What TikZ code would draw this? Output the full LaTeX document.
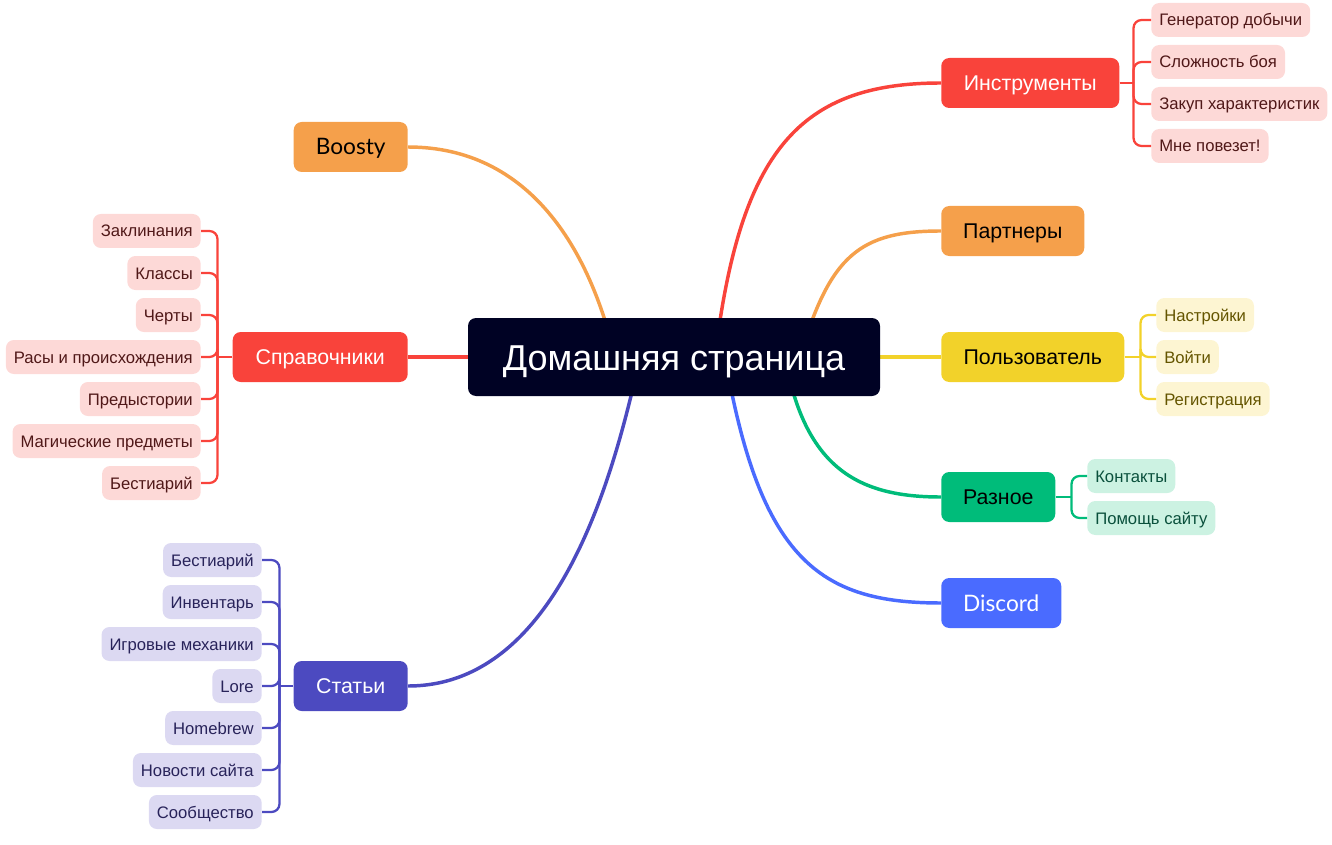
\documentclass[tikz,border=0pt]{standalone}
\usepackage{fontspec}
\setmainfont{Liberation Sans}
\newfontfamily\brandfont{Lato}
\usepackage{xcolor}
\usetikzlibrary{positioning,calc,backgrounds}

\definecolor{homebg}{HTML}{000224}
\definecolor{cred}{HTML}{F9433B}
\definecolor{corange}{HTML}{F5A04B}
\definecolor{cyellow}{HTML}{F2D22A}
\definecolor{cgreen}{HTML}{00BC7A}
\definecolor{cblue}{HTML}{4A6BFF}
\definecolor{cindigo}{HTML}{4C4AC0}
\definecolor{lred}{HTML}{FDD9D7}
\definecolor{lyellow}{HTML}{FDF5D2}
\definecolor{lgreen}{HTML}{CCF2E2}
\definecolor{lindigo}{HTML}{DCD9F2}
\definecolor{tred}{HTML}{501818}
\definecolor{tyellow}{HTML}{645500}
\definecolor{tgreen}{HTML}{0A503C}
\definecolor{tindigo}{HTML}{28235A}

\tikzset{
  topic/.style={rounded corners=6pt, minimum height=37.5pt, inner xsep=4pt, text height=11.5pt, text depth=0pt, font=\fontsize{16}{19}\selectfont},
  brand/.style={font=\brandfont\fontsize{17}{20}\selectfont, text height=12pt},
  leaf/.style={rounded corners=6pt, minimum height=25.5pt, inner xsep=6pt, text height=9pt, text depth=0pt, font=\fontsize{12.5}{15}\selectfont},
  branch/.style={line width=2.6pt},
  twig/.style={line width=1.7pt, rounded corners=6pt},
}

\begin{document}
\begin{tikzpicture}[x=0.75pt, y=-0.75pt]
    \useasboundingbox (0,0) rectangle (1332,845);

    \node[fill=homebg, text=white, rounded corners=6pt, minimum width=309pt, minimum height=58.5pt, text height=19.5pt, text depth=0pt, font=\fontsize{27}{32}\selectfont] (home) at (674,357) {Домашняя страница};

    % main topics
    \node[topic, fill=cred, text=white, anchor=west, minimum width=133.5pt] (tools) at (941,83) {Инструменты};
    \node[topic, fill=corange, anchor=west, minimum width=107.25pt] (partners) at (941,231) {Партнеры};
    \node[topic, fill=cyellow, anchor=west, minimum width=137.25pt] (user) at (941,357) {Пользователь};
    \node[topic, fill=cgreen, anchor=west, minimum width=85.5pt] (misc) at (941,497) {Разное};
    \node[topic, brand, fill=cblue, text=white, anchor=west, minimum width=90pt] (discord) at (941,603) {Discord};
    \node[topic, brand, fill=corange, anchor=east, minimum width=85.5pt] (boosty) at (408,147) {Boosty};
    \node[topic, fill=cred, text=white, anchor=east, minimum width=131.25pt] (refs) at (408,357) {Справочники};
    \node[topic, fill=cindigo, text=white, anchor=east, minimum width=85.5pt] (articles) at (408,686) {Статьи};

    \begin{scope}[on background layer]
        \draw[branch, cred] ($(home)+(41,0)$) .. controls (740,150) and (800,83) .. (tools.west);
        \draw[branch, corange] ($(home)+(126,0)$) .. controls (830,255) and (860,231) .. (partners.west);
        \draw[branch, cyellow] (home) -- (user.west);
        \draw[branch, cgreen] ($(home)+(111,0)$) .. controls (805,470) and (860,497) .. (misc.west);
        \draw[branch, cblue] ($(home)+(51,0)$) .. controls (760,560) and (820,603) .. (discord.west);
        \draw[branch, corange] (boosty.east) .. controls (530,147) and (590,250) .. ($(home)+(-59,0)$);
        \draw[branch, cred] (refs.east) -- (home);
        \draw[branch, cindigo] (articles.east) .. controls (560,686) and (615,470) .. ($(home)+(-34,0)$);
    \end{scope}

    % leaves
    \draw[twig, cred] (tools.east) -- ++(14,0) coordinate (toolsfork);
    \foreach \t [count=\i] in {Генератор добычи, Сложность боя, Закуп характеристик, Мне повезет!} {
        \node[leaf, fill=lred, text=tred, anchor=west] (tools\i) at (1151,-22+42*\i) {\t};
        \draw[twig, cred] (toolsfork) |- (tools\i.west);
    }

    \draw[twig, cred] (refs.west) -- ++(-15,0) coordinate (refsfork);
    \foreach \t [count=\i] in {Заклинания, Классы, Черты, Расы и происхождения, Предыстории, Магические предметы, Бестиарий} {
        \node[leaf, fill=lred, text=tred, anchor=east] (refs\i) at (201,189+42*\i) {\t};
        \draw[twig, cred] (refsfork) |- (refs\i.east);
    }

    \draw[twig, cyellow] (user.east) -- ++(16,0) coordinate (userfork);
    \foreach \t [count=\i] in {Настройки, Войти, Регистрация} {
        \node[leaf, fill=lyellow, text=tyellow, anchor=west] (user\i) at (1156,273+42*\i) {\t};
        \draw[twig, cyellow] (userfork) |- (user\i.west);
    }

    \draw[twig, cgreen] (misc.east) -- ++(16,0) coordinate (miscfork);
    \foreach \t [count=\i] in {Контакты, Помощь сайту} {
        \node[leaf, fill=lgreen, text=tgreen, anchor=west] (misc\i) at (1087,434+42*\i) {\t};
        \draw[twig, cgreen] (miscfork) |- (misc\i.west);
    }

    \draw[twig, cindigo] (articles.west) -- ++(-14,0) coordinate (articlesfork);
    \foreach \t [count=\i] in {Бестиарий, Инвентарь, Игровые механики, Lore, Homebrew, Новости сайта, Сообщество} {
        \node[leaf, fill=lindigo, text=tindigo, anchor=east] (articles\i) at (262,518+42*\i) {\t};
        \draw[twig, cindigo] (articlesfork) |- (articles\i.east);
    }
\end{tikzpicture}
\end{document}
